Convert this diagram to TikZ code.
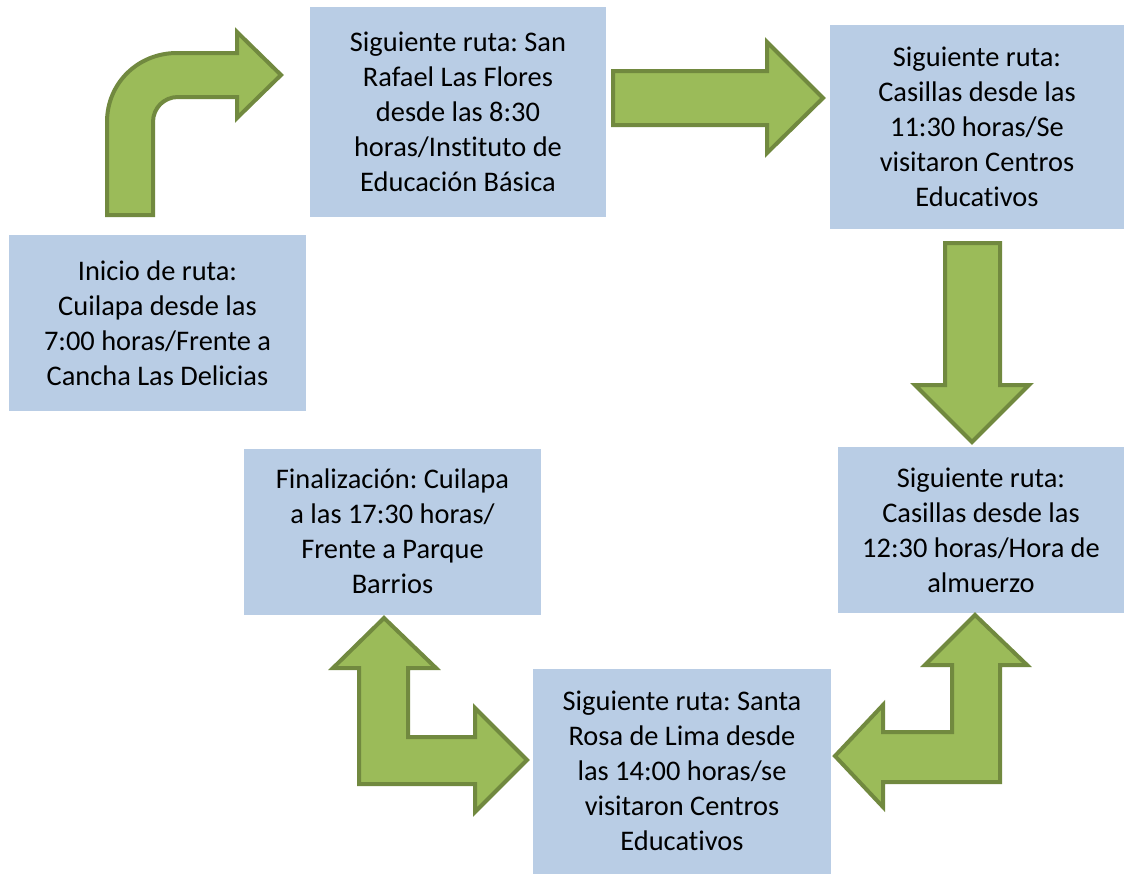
\documentclass[tikz,border=0pt]{standalone}
\usepackage{fontspec}
\setmainfont{Carlito}[RawFeature={-liga;-clig;-calt;-dlig}]
\usepackage{tikz}
\frenchspacing

\definecolor{boxblue}{RGB}{185,205,229}
\definecolor{arrowgreen}{RGB}{155,187,89}
\definecolor{arrowedge}{RGB}{113,137,63}

\begin{document}
\begin{tikzpicture}[x=0.75pt,y=0.75pt,yscale=-1,xscale=1,
    routebox/.style={fill=boxblue, draw=none, align=center, inner sep=0pt,
        font=\fontsize{21.3}{26.25}\selectfont},
    blockarrow/.style={fill=arrowgreen, draw=arrowedge, line width=3pt}]
    \useasboundingbox (0,0) rectangle (1124,875);

    %Shape: Rectangle [id:inicio]
    \node [routebox, minimum width=297*0.75pt, minimum height=176*0.75pt] (inicio) at (157.5,323) {Inicio de ruta:\\Cuilapa desde las\\7:00 horas/Frente a\\Cancha Las Delicias};
    %Shape: Rectangle [id:sanrafael]
    \node [routebox, minimum width=296*0.75pt, minimum height=210*0.75pt] (sanrafael) at (458,112) {Siguiente ruta: San\\Rafael Las Flores\\desde las 8:30\\horas/Instituto de\\Educación Básica};
    %Shape: Rectangle [id:casillasA]
    \node [routebox, minimum width=294*0.75pt, minimum height=204*0.75pt] (casillasA) at (977,127) {Siguiente ruta:\\Casillas desde las\\11:30 horas/Se\\visitaron Centros\\Educativos};
    %Shape: Rectangle [id:casillasB]
    \node [routebox, minimum width=286*0.75pt, minimum height=166*0.75pt] (casillasB) at (981,530) {Siguiente ruta:\\Casillas desde las\\12:30 horas/Hora de\\almuerzo};
    %Shape: Rectangle [id:santarosa]
    \node [routebox, minimum width=298*0.75pt, minimum height=205*0.75pt] (santarosa) at (682,771) {Siguiente ruta: Santa\\Rosa de Lima desde\\las 14:00 horas/se\\visitaron Centros\\Educativos};
    %Shape: Rectangle [id:final]
    \node [routebox, minimum width=297*0.75pt, minimum height=166*0.75pt] (final) at (392.5,531.5) {Finalización: Cuilapa\\a las 17:30 horas/\\Frente a Parque\\Barrios};

    %Shape: Bent Up Arrow
    \draw [blockarrow] (107,215) -- (107,122) .. controls (107,83) and (138,53) .. (177,53) -- (237,53) -- (237,32) -- (281,75) -- (237,118) -- (237,97) -- (178,97) .. controls (164,97) and (153,108) .. (153,122) -- (153,215) -- cycle ;
    %Shape: Right Arrow
    \draw [blockarrow] (613,71) -- (767,71) -- (767,42) -- (823,98) -- (767,153) -- (767,125) -- (613,125) -- cycle ;
    %Shape: Down Arrow
    \draw [blockarrow] (945,243) -- (1000,243) -- (1000,385) -- (1029,385) -- (972,442) -- (915,385) -- (945,385) -- cycle ;
    %Shape: Left Up Arrow
    \draw [blockarrow] (975,615) -- (1027,665) -- (1000,665) -- (1000,782) -- (883,782) -- (883,807) -- (835,756) -- (883,705) -- (883,732) -- (952,732) -- (952,665) -- (925,665) -- cycle ;
    %Shape: Up Right Arrow
    \draw [blockarrow] (384,618) -- (436,668) -- (408,668) -- (408,737) -- (475,737) -- (475,708) -- (527,760) -- (475,812) -- (475,784) -- (359,784) -- (359,668) -- (333,668) -- cycle ;

\end{tikzpicture}
\end{document}
